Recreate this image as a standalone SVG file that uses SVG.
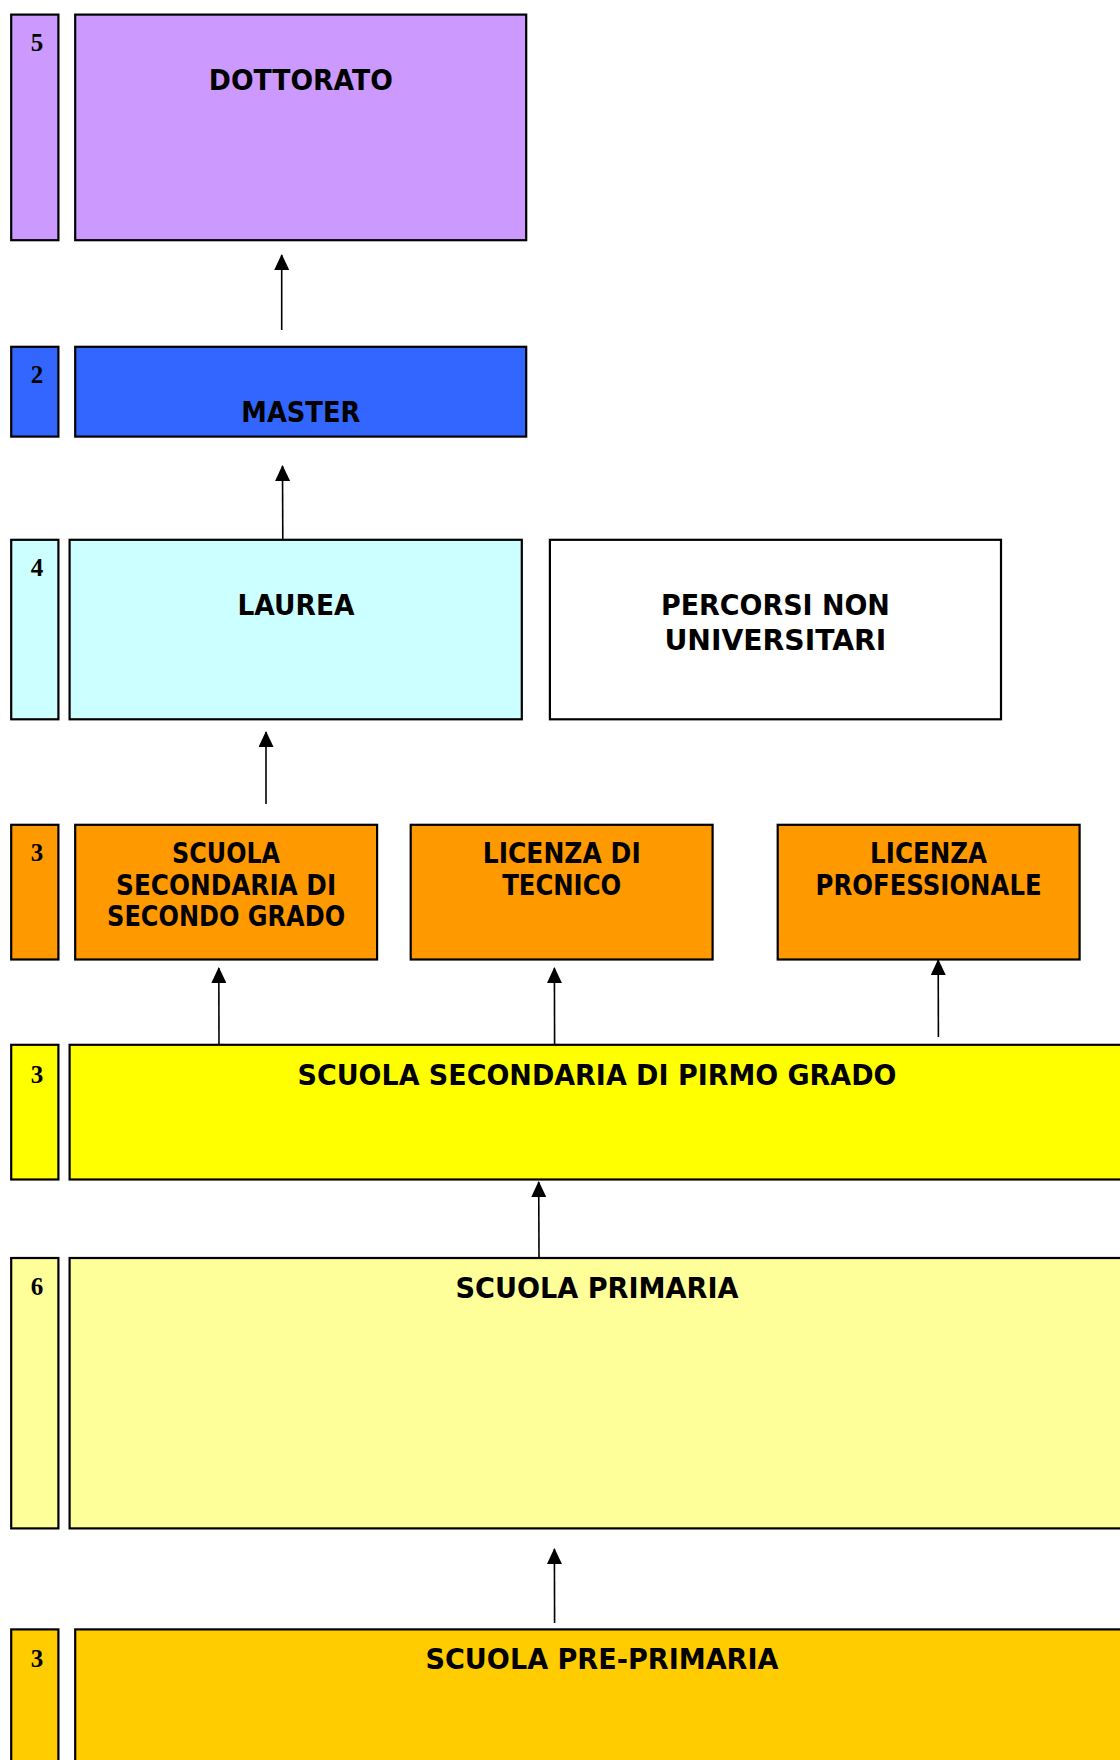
<svg xmlns="http://www.w3.org/2000/svg" width="1120" height="1760" viewBox="0 0 1120 1760">
<style>
.b{stroke:#000;stroke-width:2.2}
.t{font-family:"DejaVu Sans",Verdana,sans-serif;font-weight:bold;font-size:27.5px;text-anchor:middle;fill:#000}
.n{font-family:"Liberation Serif","Times New Roman",serif;font-weight:bold;font-size:25px;text-anchor:middle;fill:#000}
.c{stroke:#000;stroke-width:1.6;fill:none;marker-end:url(#ah)}
</style>
<defs>
<marker id="ah" viewBox="0 0 16 15" refX="15" refY="7.5" markerWidth="16" markerHeight="15" markerUnits="userSpaceOnUse" orient="auto">
<path d="M0,0 L16,7.5 L0,15 z" fill="#000"/>
</marker>
</defs>
<rect width="1120" height="1760" fill="#fff"/>
<g id="connectors">
<line class="c" x1="281.7" y1="330" x2="281.7" y2="255"/>
<line class="c" x1="282.8" y1="541" x2="282.5" y2="466"/>
<line class="c" x1="266" y1="804" x2="266" y2="732"/>
<line class="c" x1="219" y1="1044" x2="218.8" y2="968"/>
<line class="c" x1="554.6" y1="1044" x2="554.4" y2="968"/>
<line class="c" x1="938.4" y1="1037" x2="938.2" y2="960"/>
<line class="c" x1="539" y1="1257" x2="538.7" y2="1182"/>
<line class="c" x1="554.6" y1="1623" x2="554.4" y2="1549"/>
</g>
<g id="dottorato">
<rect class="b" x="11.2" y="14.6" width="47.2" height="225.6" fill="#CC99FF"/>
<text class="n" x="37" y="51">5</text>
<rect class="b" x="75.2" y="14.6" width="451" height="225.6" fill="#CC99FF"/>
<text class="t" x="300.8" y="90" textLength="184" lengthAdjust="spacingAndGlyphs">DOTTORATO</text>
</g>
<g id="master">
<rect class="b" x="11.2" y="346.8" width="47.2" height="89.8" fill="#3366FF"/>
<text class="n" x="37" y="383">2</text>
<rect class="b" x="75.2" y="346.8" width="451" height="89.8" fill="#3366FF"/>
<text class="t" x="300.8" y="422" textLength="119" lengthAdjust="spacingAndGlyphs">MASTER</text>
</g>
<g id="laurea">
<rect class="b" x="11.2" y="539.8" width="47.2" height="179.5" fill="#CCFFFF"/>
<text class="n" x="37" y="576">4</text>
<rect class="b" x="69.6" y="539.8" width="452.2" height="179.5" fill="#CCFFFF"/>
<text class="t" x="296" y="615" textLength="117" lengthAdjust="spacingAndGlyphs">LAUREA</text>
</g>
<g id="percorsi">
<rect class="b" x="549.9" y="539.8" width="451.1" height="179.5" fill="#fff"/>
<text class="t" x="775.4" y="615" textLength="229" lengthAdjust="spacingAndGlyphs">PERCORSI NON</text>
<text class="t" x="775.4" y="650" textLength="222" lengthAdjust="spacingAndGlyphs">UNIVERSITARI</text>
</g>
<g id="secondaria2">
<rect class="b" x="11.2" y="824.8" width="47.2" height="134.7" fill="#FF9900"/>
<text class="n" x="37" y="861">3</text>
<rect class="b" x="75.2" y="824.8" width="301.9" height="134.7" fill="#FF9900"/>
<text class="t" x="226.1" y="863" textLength="108" lengthAdjust="spacingAndGlyphs">SCUOLA</text>
<text class="t" x="226.1" y="895" textLength="220" lengthAdjust="spacingAndGlyphs">SECONDARIA DI</text>
<text class="t" x="226.1" y="926" textLength="238" lengthAdjust="spacingAndGlyphs">SECONDO GRADO</text>
</g>
<g id="tecnico">
<rect class="b" x="410.7" y="824.8" width="301.9" height="134.7" fill="#FF9900"/>
<text class="t" x="561.7" y="863" textLength="158" lengthAdjust="spacingAndGlyphs">LICENZA DI</text>
<text class="t" x="561.7" y="895" textLength="119" lengthAdjust="spacingAndGlyphs">TECNICO</text>
</g>
<g id="professionale">
<rect class="b" x="777.7" y="824.8" width="301.9" height="134.7" fill="#FF9900"/>
<text class="t" x="928.6" y="863" textLength="117" lengthAdjust="spacingAndGlyphs">LICENZA</text>
<text class="t" x="928.6" y="895" textLength="226" lengthAdjust="spacingAndGlyphs">PROFESSIONALE</text>
</g>
<g id="secondaria1">
<rect class="b" x="11.2" y="1044.8" width="47.2" height="134.7" fill="#FFFF00"/>
<text class="n" x="37" y="1083">3</text>
<rect class="b" x="69.6" y="1044.8" width="1060" height="134.7" fill="#FFFF00"/>
<text class="t" x="597" y="1085" textLength="599" lengthAdjust="spacingAndGlyphs">SCUOLA SECONDARIA DI PIRMO GRADO</text>
</g>
<g id="primaria">
<rect class="b" x="11.2" y="1258" width="47.2" height="270.4" fill="#FFFF99"/>
<text class="n" x="37" y="1295">6</text>
<rect class="b" x="69.6" y="1258" width="1060" height="270.4" fill="#FFFF99"/>
<text class="t" x="597" y="1298" textLength="283" lengthAdjust="spacingAndGlyphs">SCUOLA PRIMARIA</text>
</g>
<g id="preprimaria">
<rect class="b" x="11.2" y="1629.4" width="47.2" height="140" fill="#FFCC00"/>
<text class="n" x="37" y="1667">3</text>
<rect class="b" x="75.2" y="1629.4" width="1060" height="140" fill="#FFCC00"/>
<text class="t" x="602" y="1669" textLength="353" lengthAdjust="spacingAndGlyphs">SCUOLA PRE-PRIMARIA</text>
</g>
</svg>
